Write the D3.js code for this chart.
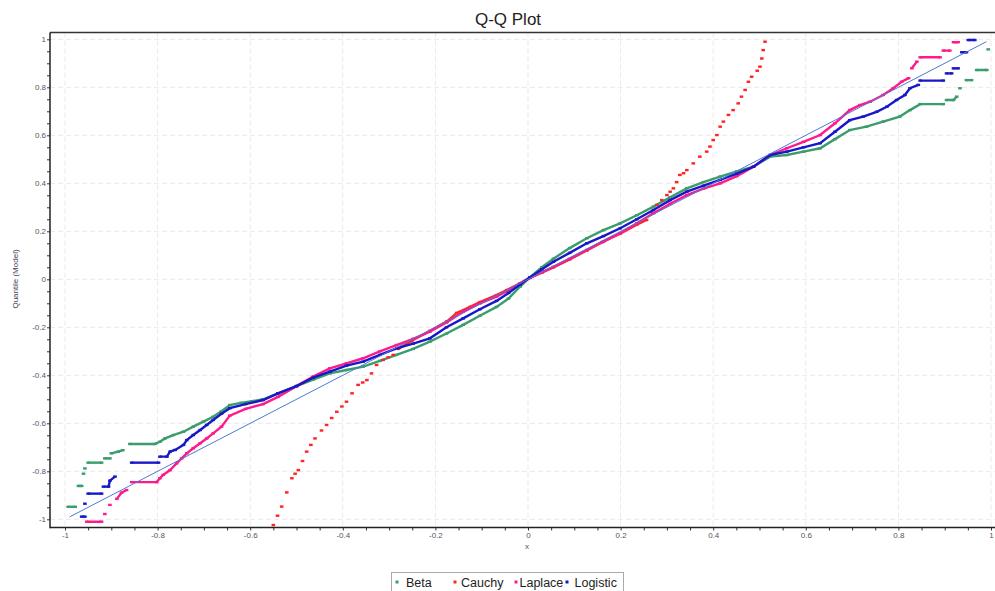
<!DOCTYPE html>
<html>
<head>
<meta charset="utf-8">
<script src="https://cdn.jsdelivr.net/npm/d3@7"></script>
<style>
  body { margin: 0; background: #fff; }
  svg { display: block; font-family: "Liberation Sans", Arial, sans-serif; }
</style>
</head>
<body>
<div id="qq_plot"></div>
<script>
var names = ["Beta", "Cauchy", "Laplace", "Logistic"]
var colors = ["#3a9d6b", "#ff2424", "#ff1a8c", "#1818c8"]
var majorTicks = [-1, -0.8, -0.6, -0.4, -0.2, 0, 0.2, 0.4, 0.6, 0.8, 1]

// each series: runs of quantile pairs [theoretical x, model quantile]
var betaRuns = [
  [[-0.993,-0.948],[-0.978,-0.948]],
  [[-0.971,-0.861],[-0.964,-0.861]],
  [[-0.96,-0.81]],
  [[-0.957,-0.788]],
  [[-0.95,-0.764],[-0.921,-0.764]],
  [[-0.914,-0.746],[-0.903,-0.746]],
  [[-0.9,-0.725],[-0.885,-0.718],[-0.875,-0.712]],
  [[-0.86,-0.686],[-0.806,-0.686],[-0.795,-0.677],[-0.784,-0.663],[-0.766,-0.649],[-0.744,-0.635],[-0.723,-0.614],
   [-0.701,-0.593],[-0.68,-0.573],[-0.662,-0.55],[-0.644,-0.524],[-0.62,-0.515],[-0.596,-0.508],[-0.572,-0.5],
   [-0.54,-0.475],[-0.5,-0.445],[-0.464,-0.418],[-0.428,-0.392],[-0.392,-0.378],[-0.356,-0.364],[-0.32,-0.34],
   [-0.284,-0.315],[-0.248,-0.29],[-0.212,-0.26],[-0.176,-0.226],[-0.14,-0.19],[-0.104,-0.152],[-0.068,-0.115],
   [-0.042,-0.08],[-0.017,-0.03],[0.004,0.008],[0.03,0.05],[0.055,0.086],[0.09,0.13],[0.127,0.171],
   [0.163,0.205],[0.199,0.233],[0.235,0.267],[0.271,0.303],[0.307,0.342],[0.343,0.379],[0.379,0.405],
   [0.415,0.428],[0.451,0.45],[0.487,0.469],[0.523,0.511],[0.559,0.518],[0.595,0.532],[0.631,0.546],
   [0.663,0.584],[0.695,0.622],[0.731,0.636],[0.767,0.657],[0.803,0.678],[0.825,0.705],[0.847,0.73],[0.897,0.73]],
  [[0.904,0.747],[0.919,0.747],[0.926,0.761]],
  [[0.933,0.796]],
  [[0.947,0.83],[0.958,0.83]],
  [[0.969,0.872],[0.991,0.872]],
  [[0.994,0.958]]
]

var cauchyLow = [
  [-0.55,-1.024],[-0.541,-0.985],[-0.532,-0.947],[-0.521,-0.888],[-0.51,-0.829],[-0.503,-0.81],[-0.496,-0.795],
  [-0.487,-0.757],[-0.478,-0.718],[-0.469,-0.69],[-0.46,-0.663],[-0.446,-0.63],[-0.435,-0.607],[-0.424,-0.578],
  [-0.413,-0.552],[-0.402,-0.53],[-0.392,-0.51],[-0.38,-0.475],[-0.367,-0.44],[-0.357,-0.43],[-0.348,-0.42],
  [-0.338,-0.392],[-0.327,-0.357],[-0.313,-0.336],[-0.302,-0.325],[-0.291,-0.315]
]
var cauchyMid = [
  [-0.28,-0.29],[-0.25,-0.255],[-0.212,-0.215],[-0.175,-0.175],[-0.154,-0.14],[-0.125,-0.115],[-0.104,-0.095],
  [-0.068,-0.066],[-0.046,-0.045],[-0.017,-0.017],[0.004,0.006],[0.03,0.028],[0.055,0.05],[0.09,0.083],
  [0.127,0.12],[0.16,0.155],[0.199,0.19],[0.235,0.228],[0.256,0.247]
]
var cauchyHigh = [
  [0.267,0.28],[0.278,0.31],[0.289,0.33],[0.3,0.351],[0.307,0.365],[0.314,0.379],[0.321,0.405],[0.328,0.435],
  [0.336,0.442],[0.343,0.455],[0.357,0.483],[0.371,0.511],[0.386,0.532],[0.393,0.553],[0.4,0.58],[0.408,0.601],
  [0.415,0.636],[0.422,0.657],[0.433,0.685],[0.443,0.705],[0.454,0.733],[0.461,0.761],[0.469,0.789],[0.476,0.823],
  [0.483,0.844],[0.495,0.869],[0.501,0.886],[0.505,0.92],[0.508,0.955],[0.512,0.99]
]

var laplaceRuns = [
  [[-0.953,-1.01],[-0.921,-1.01]],
  [[-0.914,-0.978]],
  [[-0.903,-0.94]],
  [[-0.888,-0.915],[-0.878,-0.889],[-0.867,-0.878]],
  [[-0.856,-0.845],[-0.802,-0.845],[-0.795,-0.829],[-0.788,-0.815],[-0.773,-0.795],[-0.759,-0.767],[-0.748,-0.746],
   [-0.737,-0.725],[-0.723,-0.704],[-0.708,-0.683],[-0.694,-0.663],[-0.68,-0.642],[-0.662,-0.614],[-0.644,-0.568],
   [-0.61,-0.54],[-0.572,-0.52],[-0.54,-0.49],[-0.5,-0.445],[-0.464,-0.405],[-0.428,-0.371],[-0.392,-0.35],
   [-0.356,-0.329],[-0.32,-0.3],[-0.284,-0.274],[-0.248,-0.248],[-0.212,-0.218],[-0.176,-0.18],[-0.14,-0.135],
   [-0.104,-0.1],[-0.068,-0.072],[-0.042,-0.045],[-0.017,-0.017],[0.004,0.006],[0.03,0.03],[0.055,0.052],
   [0.09,0.085],[0.127,0.122],[0.163,0.157],[0.199,0.192],[0.235,0.233],[0.271,0.275],[0.307,0.315],
   [0.343,0.351],[0.379,0.378],[0.415,0.4],[0.451,0.43],[0.487,0.469],[0.523,0.518],[0.559,0.546],
   [0.595,0.573],[0.631,0.601],[0.663,0.65],[0.695,0.705],[0.717,0.726],[0.739,0.74],[0.767,0.768],
   [0.789,0.796],[0.807,0.823],[0.822,0.838]],
  [[0.829,0.879],[0.84,0.907]],
  [[0.847,0.925],[0.89,0.925]],
  [[0.897,0.953],[0.911,0.953]],
  [[0.919,0.988],[0.929,0.988]]
]

var logisticRuns = [
  [[-0.964,-0.989],[-0.957,-0.989]],
  [[-0.957,-0.935]],
  [[-0.95,-0.893],[-0.921,-0.893]],
  [[-0.917,-0.864],[-0.906,-0.864],[-0.903,-0.839],[-0.892,-0.822]],
  [[-0.856,-0.764],[-0.798,-0.764]],
  [[-0.795,-0.739],[-0.78,-0.739],[-0.773,-0.718],[-0.762,-0.711],[-0.744,-0.69],[-0.737,-0.67],[-0.723,-0.649],
   [-0.708,-0.628],[-0.694,-0.607],[-0.68,-0.586],[-0.662,-0.56],[-0.644,-0.537],[-0.61,-0.52],[-0.572,-0.503],
   [-0.54,-0.475],[-0.5,-0.445],[-0.464,-0.41],[-0.428,-0.385],[-0.392,-0.36],[-0.356,-0.343],[-0.32,-0.315],
   [-0.284,-0.288],[-0.248,-0.268],[-0.212,-0.246],[-0.176,-0.2],[-0.14,-0.163],[-0.104,-0.125],[-0.068,-0.09],
   [-0.042,-0.057],[-0.017,-0.022],[0.004,0.008],[0.03,0.042],[0.055,0.073],[0.09,0.11],[0.127,0.15],
   [0.163,0.18],[0.199,0.2125],[0.235,0.25],[0.271,0.289],[0.307,0.33],[0.343,0.365],[0.379,0.39],
   [0.415,0.414],[0.451,0.44],[0.487,0.469],[0.523,0.518],[0.559,0.532],[0.595,0.55],[0.631,0.567],
   [0.663,0.615],[0.695,0.663],[0.724,0.678],[0.753,0.698],[0.775,0.719],[0.796,0.747],[0.814,0.768],
   [0.825,0.796],[0.843,0.81]],
  [[0.847,0.828],[0.897,0.828]],
  [[0.904,0.858],[0.915,0.858]],
  [[0.919,0.879],[0.929,0.879]],
  [[0.937,0.946],[0.947,0.946]],
  [[0.951,0.997],[0.965,0.997]]
]

var refLine = [[-0.99,-0.99],[0.99,0.99]]

var width = 995,
    height = 591
var plotLeft = 50, plotTop = 32.5, plotBottom = 527.5, plotRight = 995

var svg = d3.select("#qq_plot")
  .append("svg")
    .attr("width", width)
    .attr("height", height)

var x = d3.scaleLinear().domain([-1, 1]).range([65, 991])
var y = d3.scaleLinear().domain([-1, 1]).range([519.3, 39.3])

var minorTicks = d3.range(-20, 21).map(function(i) { return i / 20 })
function isMajor(d) { return majorTicks.some(function(t) { return Math.abs(t - d) < 1e-6 }) }
function fmt(d) { return isMajor(d) ? String(Math.round(d * 10) / 10) : "" }

// grid
svg.append("g").selectAll("line")
  .data(majorTicks).enter().append("line")
    .attr("x1", plotLeft).attr("x2", plotRight)
    .attr("y1", function(d) { return y(d) }).attr("y2", function(d) { return y(d) })
    .attr("stroke", "#e9e9e9").attr("stroke-dasharray", "5,3")
svg.append("g").selectAll("line")
  .data(majorTicks).enter().append("line")
    .attr("y1", plotTop).attr("y2", plotBottom)
    .attr("x1", function(d) { return x(d) }).attr("x2", function(d) { return x(d) })
    .attr("stroke", "#e9e9e9").attr("stroke-dasharray", "5,3")

// axes
var yAxis = svg.append("g")
  .attr("transform", "translate(" + plotLeft + ",0)")
  .call(d3.axisLeft(y).tickValues(minorTicks).tickSize(3).tickPadding(1).tickFormat(fmt))
yAxis.select(".domain").remove()
var xAxis = svg.append("g")
  .attr("transform", "translate(0," + plotBottom + ")")
  .call(d3.axisBottom(x).tickValues(minorTicks).tickSize(3).tickPadding(1.5).tickFormat(fmt))
xAxis.select(".domain").remove()
svg.selectAll(".tick line").attr("stroke", "#333")
svg.selectAll(".tick text").style("font-size", "8px").attr("fill", "#556")

// series
svg.append("clipPath").attr("id", "plotclip")
  .append("rect").attr("x", plotLeft).attr("y", plotTop)
  .attr("width", plotRight - plotLeft).attr("height", plotBottom - plotTop)
var plot = svg.append("g").attr("clip-path", "url(#plotclip)")

var cauchyRuns = cauchyLow.map(function(p) { return [p] })
  .concat([cauchyMid])
  .concat(cauchyHigh.map(function(p) { return [p] }))
var series = [betaRuns, cauchyRuns, laplaceRuns, logisticRuns]

var line = d3.line().x(function(d) { return x(d[0]) }).y(function(d) { return y(d[1]) })

series.forEach(function(runs, i) {
  var g = plot.append("g")
  g.selectAll("path")
    .data(runs.filter(function(r) { return r.length > 1 }))
    .enter().append("path")
      .attr("d", line)
      .attr("fill", "none")
      .attr("stroke", colors[i])
      .attr("stroke-width", 2.4)
  g.selectAll("rect")
    .data(runs.flat())
    .enter().append("rect")
      .attr("x", function(d) { return x(d[0]) - 1.8 })
      .attr("y", function(d) { return y(d[1]) - 1.2 })
      .attr("width", 3.6)
      .attr("height", 2.4)
      .attr("fill", colors[i])
})

plot.append("path")
  .datum(refLine)
  .attr("d", line)
  .attr("fill", "none")
  .attr("stroke", "#4a7bd6")
  .attr("stroke-width", 1)

// frame
svg.append("line").attr("x1", plotLeft).attr("x2", plotRight).attr("y1", plotTop).attr("y2", plotTop)
  .attr("stroke", "#333").attr("stroke-width", 1.5)
svg.append("line").attr("x1", plotLeft).attr("x2", plotLeft).attr("y1", plotTop).attr("y2", plotBottom + 0.75)
  .attr("stroke", "#222").attr("stroke-width", 1.5)
svg.append("line").attr("x1", plotLeft).attr("x2", plotRight).attr("y1", plotBottom).attr("y2", plotBottom)
  .attr("stroke", "#222").attr("stroke-width", 1.5)

// titles
svg.append("text")
  .attr("x", 508).attr("y", 25)
  .attr("text-anchor", "middle")
  .style("font-size", "17px")
  .attr("fill", "#222")
  .text("Q-Q Plot")
svg.append("text")
  .attr("x", 527).attr("y", 549)
  .attr("text-anchor", "middle")
  .style("font-size", "8px")
  .attr("fill", "#556")
  .text("x")
svg.append("text")
  .attr("transform", "translate(15,279)rotate(-90)")
  .attr("dy", "0.35em")
  .attr("text-anchor", "middle")
  .style("font-size", "8px")
  .attr("fill", "#445")
  .text("Quantile (Model)")

// legend
var legend = svg.append("g")
legend.append("rect")
  .attr("x", 391.5).attr("y", 572.5).attr("width", 232).attr("height", 25)
  .attr("fill", "#fff").attr("stroke", "#aaa")
var markerX = [397, 455, 516, 567]
var textX = [406, 461, 519.5, 574.5]
legend.selectAll("rect.mk")
  .data(names).enter().append("rect")
    .attr("class", "mk")
    .attr("x", function(d, i) { return markerX[i] - 1.5 })
    .attr("y", 580.5)
    .attr("width", 3).attr("height", 3)
    .attr("fill", function(d, i) { return colors[i] })
legend.selectAll("text")
  .data(names).enter().append("text")
    .attr("x", function(d, i) { return textX[i] })
    .attr("y", 587)
    .style("font-size", "12.5px")
    .attr("fill", "#222")
    .text(function(d) { return d })
</script>
</body>
</html>
